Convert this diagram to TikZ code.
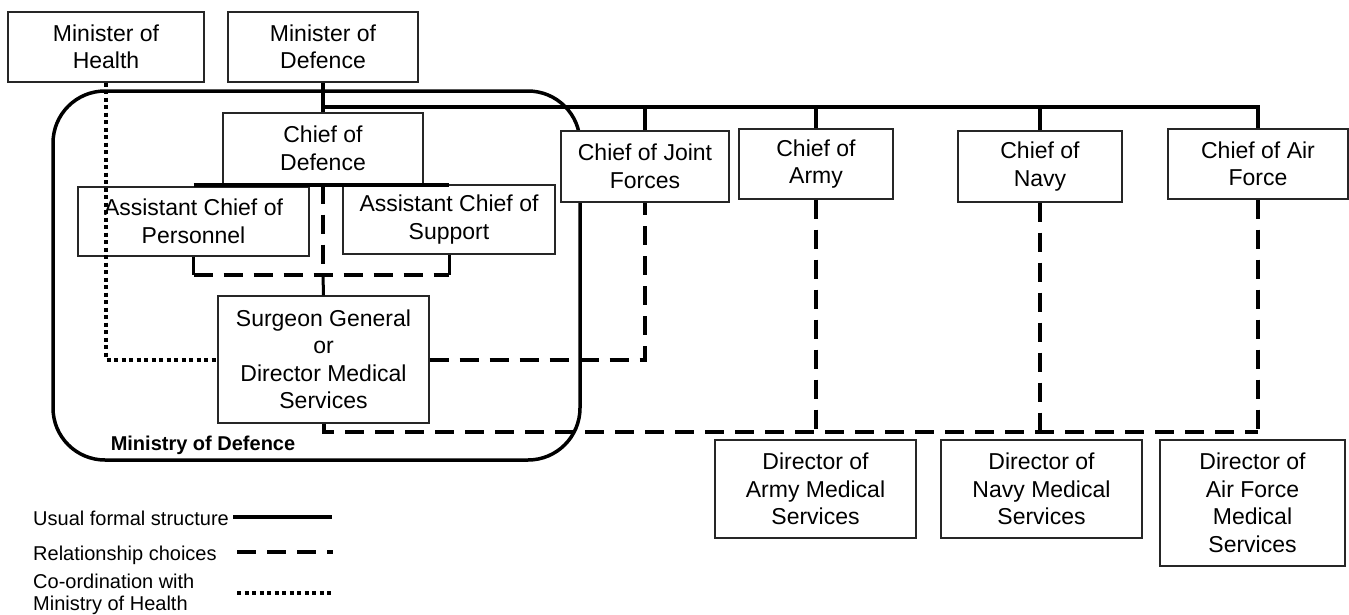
\documentclass[tikz,border=0pt]{standalone}
\usepackage{fontspec}
\setmainfont{Liberation Sans}
\begin{document}
\begin{tikzpicture}[x=1pt,y=-1pt,
  box/.style={draw=black!85, line width=1.3pt, fill=white, align=center, inner sep=0pt,
    font=\fontsize{23}{27.5}\selectfont},
  formal/.style={line width=4pt},
  rel/.style={line width=4pt, dash pattern=on 19pt off 11pt},
  coord/.style={line width=4pt, dash pattern=on 4pt off 3.5pt},
  legtext/.style={anchor=west, inner sep=0pt, align=left, font=\fontsize{20}{22}\selectfont}]
\useasboundingbox (0,0) rectangle (1349,614);
% Ministry of Defence frame
\node[draw, line width=3.5pt, rounded corners=52pt, minimum width=527pt, minimum height=369pt, inner sep=0pt] (mod) at (316.5,275.5) {};
\node[font=\fontsize{20}{22}\selectfont\bfseries, inner sep=0pt] (modl) at (203,445) {Ministry of Defence};
% boxes
\node[box, minimum width=196pt, minimum height=70pt] (mh) at (106,47) {Minister of\\Health};
\node[box, minimum width=190pt, minimum height=70pt] (md) at (323,47) {Minister of\\Defence};
\coordinate (hl) at (323,107);
\coordinate (hr) at (1260,107);
\coordinate (yb) at (0,432);
% formal structure lines
\draw[formal] (md.south) -- (323,113);
\draw[formal] (hl) -- (hr);
\node[box, minimum width=200pt, minimum height=71pt] (cd) at (323,148.5) {Chief of\\Defence};
\node[box, minimum width=231pt, minimum height=69pt] (acp) at (193.5,221.5) {Assistant Chief of\\Personnel};
\node[box, minimum width=212pt, minimum height=69pt] (acs) at (449,219.5) {Assistant Chief of\\Support};
\node[box, minimum width=211pt, minimum height=127pt] (sg) at (323.5,359.5) {Surgeon General\\or\\Director Medical\\Services};
\node[box, minimum width=168pt, minimum height=71pt] (cj) at (645,166.5) {Chief of Joint\\Forces};
\node[box, minimum width=154pt, minimum height=70pt] (ca) at (816,164) {Chief of\\Army};
\node[box, minimum width=164pt, minimum height=71pt] (cn) at (1040,166.5) {Chief of\\Navy};
\node[box, minimum width=180pt, minimum height=70pt] (caf) at (1258,164) {Chief of Air\\Force};
\node[box, minimum width=201pt, minimum height=98pt] (dam) at (815.5,489) {Director of\\Army Medical\\Services};
\node[box, minimum width=201pt, minimum height=98pt] (dnm) at (1041.5,489) {Director of\\Navy Medical\\Services};
\node[box, minimum width=185pt, minimum height=126pt] (dafm) at (1252.5,503) {Director of\\Air Force\\Medical\\Services};
% stubs from the top line
\draw[formal] (cd.north) -- (cd.north |- hl);
\draw[formal] (cj.north) -- (cj.north |- hl);
\draw[formal] (ca.north) -- (ca.north |- hl);
\draw[formal] (cn.north) -- (cn.north |- hl);
\draw[formal] (caf.north) -- (caf.north |- hl);
% under chief of defence
\draw[formal] (acp.north |- cd.south) -- (acs.north |- cd.south);
\coordinate (pl) at (193.5,275);
\draw[line width=3pt] (acp.south) -- (pl);
\draw[line width=3pt] (acs.south) -- (acs.south |- pl);
\draw[rel] (pl) -- (acs.south |- pl);
\draw[rel] (cd.south) -- (cd.south |- pl);
\draw[line width=3pt] (cd.south |- pl) -- (sg.north);
% coordination with health
\draw[coord] (mh.south) |- (sg.west);
% relationship choices
\draw[rel] (sg.east) -| (cj.south);
\draw[rel] (sg.south) |- (caf.south |- yb);
\draw[rel] (ca.south) -- (ca.south |- dam.north);
\draw[rel] (cn.south) -- (cn.south |- yb);
\draw[rel] (caf.south) -- (caf.south |- dafm.north);
% legend
\node[legtext] (l1) at (33,518) {Usual formal structure};
\node[legtext] (l2) at (33,555) {Relationship choices};
\node[legtext] (l3) at (33,594) {Co-ordination with\\Ministry of Health};
\coordinate (l1a) at (233,517);
\coordinate (l1b) at (332,517);
\coordinate (l2a) at (237,552);
\coordinate (l2b) at (333,552);
\coordinate (l3a) at (237,593);
\coordinate (l3b) at (333,593);
\draw[formal] (l1a) -- (l1b);
\draw[rel] (l2a) -- (l2b);
\draw[coord] (l3a) -- (l3b);
\end{tikzpicture}
\end{document}
